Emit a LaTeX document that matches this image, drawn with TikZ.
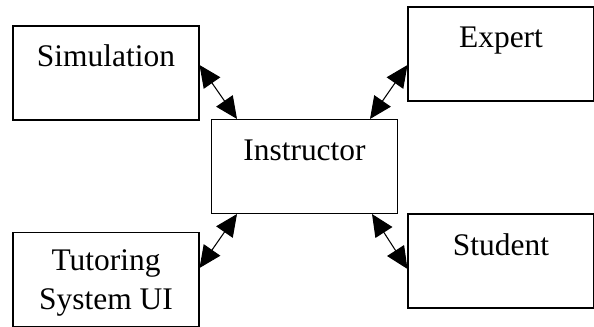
\documentclass[tikz,border=0pt]{standalone}
\usepackage{fontspec}
\setmainfont{Liberation Serif}
\usetikzlibrary{arrows.meta}
\tikzset{
  box/.style={draw,line width=0.6pt,inner sep=0pt,minimum width=3.72cm,minimum height=1.88cm,
    text height=0.82cm,text depth=1.06cm,font=\fontsize{17.9}{22.2}\selectfont},
  link/.style={>={Triangle[length=4.4mm,width=4mm]},<->,line width=0.6pt}
}
\begin{document}
\begin{tikzpicture}[x=0.02cm,y=-0.02cm]
\useasboundingbox (0,0) rectangle (594,327);
\node[box] (sim) at (106,73) {Simulation};
\node[box] (exp) at (501,54) {Expert};
\node[box] (ins) at (304.5,166.5) {Instructor};
\node[box,align=center,text height=1.54cm,text depth=0.32cm] (tut) at (106,279.5) {Tutoring\\System UI};
\node[box] (stu) at (501,261) {Student};
\draw[link] ([shift={(0,-8)}]sim.east) -- ([shift={(-67.5,0)}]ins.north);
\draw[link] ([shift={(0,11)}]exp.west) -- ([shift={(65.5,0)}]ins.north);
\draw[link] ([shift={(0,-11.5)}]tut.east) -- ([shift={(-67.5,0)}]ins.south);
\draw[link] ([shift={(0,8)}]stu.west) -- ([shift={(67.5,0)}]ins.south);
\end{tikzpicture}
\end{document}
